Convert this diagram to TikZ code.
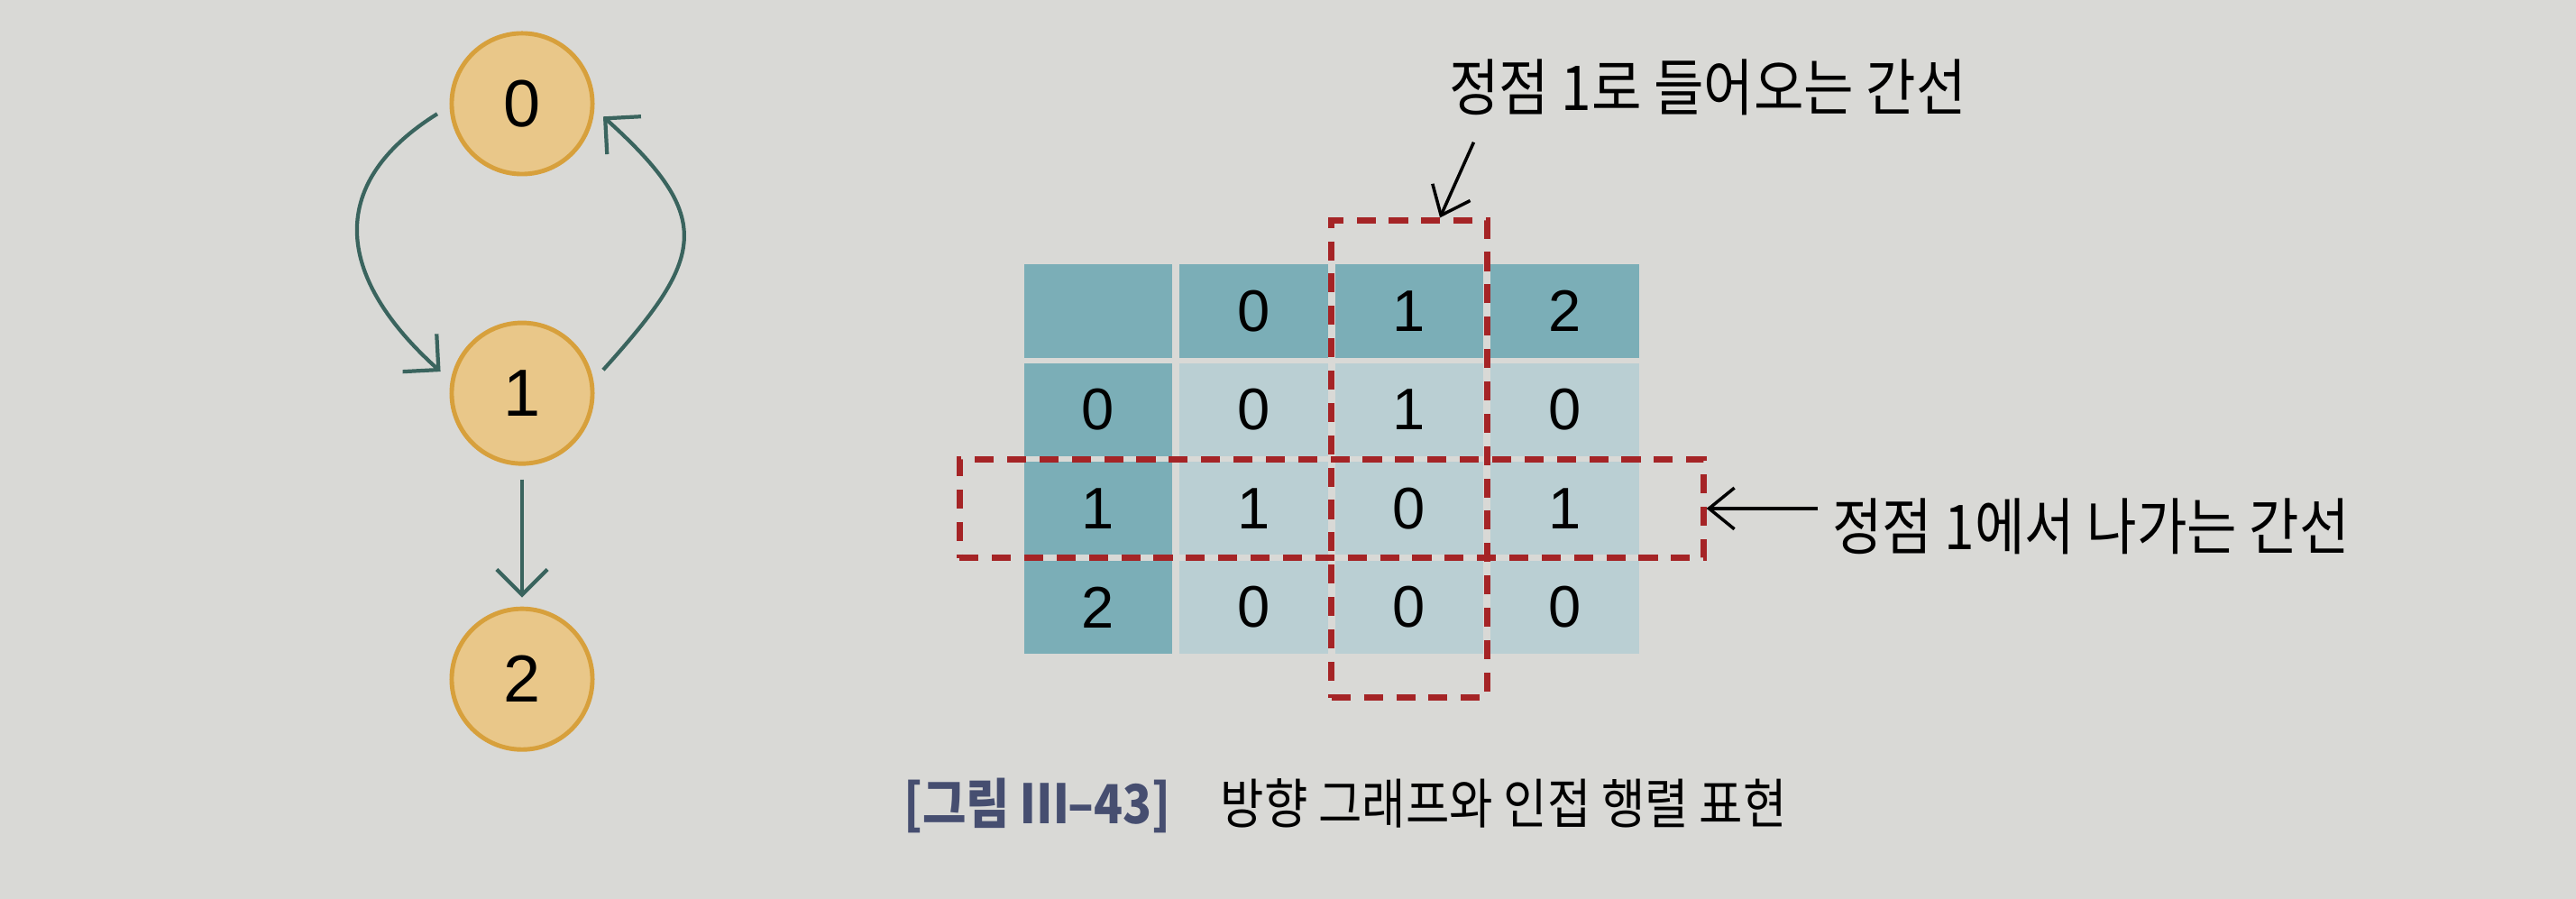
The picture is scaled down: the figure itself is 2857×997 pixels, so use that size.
\documentclass[tikz,border=0pt]{standalone}
\usepackage{fontspec}
\setmainfont{Noto Sans CJK KR}[FakeStretch=0.88]
\newfontfamily\digitfont{Liberation Sans}
\usetikzlibrary{positioning, fit, arrows.meta}

\definecolor{paper}{RGB}{217,217,214}
\definecolor{nodefill}{RGB}{233,199,137}
\definecolor{nodeline}{RGB}{215,160,60}
\definecolor{edgecol}{RGB}{58,100,94}
\definecolor{headcol}{RGB}{123,174,183}
\definecolor{cellcol}{RGB}{186,207,211}
\definecolor{boxcol}{RGB}{165,36,38}
\definecolor{tagcol}{RGB}{70,78,112}

\begin{document}
\begin{tikzpicture}[x=0.01cm, y=0.01cm, node distance=0.05cm and 0.07cm]
\tikzstyle{vertex}=[circle, draw=nodeline, fill=nodefill, line width=1.4pt, minimum size=1.56cm, inner sep=0pt, font=\digitfont\fontsize{21}{21}\selectfont]
\tikzstyle{edge}=[draw=edgecol, line width=1.2pt, -{Straight Barb[length=8pt, width=16pt]}]
\tikzstyle{head}=[fill=headcol, minimum width=1.64cm, minimum height=1.03cm, inner sep=0pt, font=\digitfont\fontsize{18.5}{18.5}\selectfont]
\tikzstyle{cell}=[head, fill=cellcol]
\tikzstyle{hilite}=[draw=boxcol, line width=1.9pt, dash pattern=on 6pt off 4.2pt]
\tikzstyle{remark}=[inner sep=0.15cm, font=\fontsize{19.5}{19.5}\selectfont]
\tikzstyle{note}=[black, line width=1pt, -{Straight Barb[length=8pt, width=13pt]}]
    \fill [paper] (0,0) rectangle (2857,997);
    \useasboundingbox (0,0) rectangle (2857,997);
    % directed graph
    \node [vertex] (n0) at (579,882) {0};
    \node [vertex, below=1.6cm of n0] (n1) {1};
    \node [vertex, below=1.56cm of n1] (n2) {2};
    \draw [edge, shorten <=0.16cm, shorten >=0.15cm] (n0.182) to [out=212, in=138, looseness=1.4] (n1.170);
    \draw [edge, shorten <=0.16cm, shorten >=0.13cm] (n1.10) to [out=48, in=318, looseness=1.55] (n0.356);
    \draw [edge, shorten <=0.15cm, shorten >=0.1cm] (n1) -- (n2);
    % adjacency matrix
    \node [head] (c00) at (1218,652) {};
    \node [head, right=of c00] (c01) {0};
    \node [head, right=of c01] (c02) {1};
    \node [head, right=of c02] (c03) {2};
    \node [head, below=of c00] (c10) {0};
    \node [cell, right=of c10] (c11) {0};
    \node [cell, right=of c11] (c12) {1};
    \node [cell, right=of c12] (c13) {0};
    \node [head, below=of c10] (c20) {1};
    \node [cell, right=of c20] (c21) {1};
    \node [cell, right=of c21] (c22) {0};
    \node [cell, right=of c22] (c23) {1};
    \node [head, below=of c20] (c30) {2};
    \node [cell, right=of c30] (c31) {0};
    \node [cell, right=of c31] (c32) {0};
    \node [cell, right=of c32] (c33) {0};
    \node [hilite, inner xsep=0.035cm, inner ysep=0.48cm, fit=(c02)(c32)] (colbox) {};
    \node [hilite, inner xsep=0.71cm, inner ysep=0.025cm, fit=(c20)(c23)] (rowbox) {};
    % labels
    \node [remark] (inlab) at (1894,900) {정점 1로 들어오는 간선};
    \node [remark] (outlab) at (2319,413) {정점 1에서 나가는 간선};
    \draw [note] ([xshift=0.43cm, yshift=-0.14cm]inlab.south west) -- ([xshift=0.34cm]colbox.north);
    \draw [note] (outlab.west |- rowbox.east) -- (rowbox.east);
    \node [font=\fontsize{17}{17}\selectfont] (cap) at (1492,104) {{\bfseries\color{tagcol}[그림 Ⅲ–43]}\hspace{0.55cm}방향 그래프와 인접 행렬 표현};
\end{tikzpicture}
\end{document}
